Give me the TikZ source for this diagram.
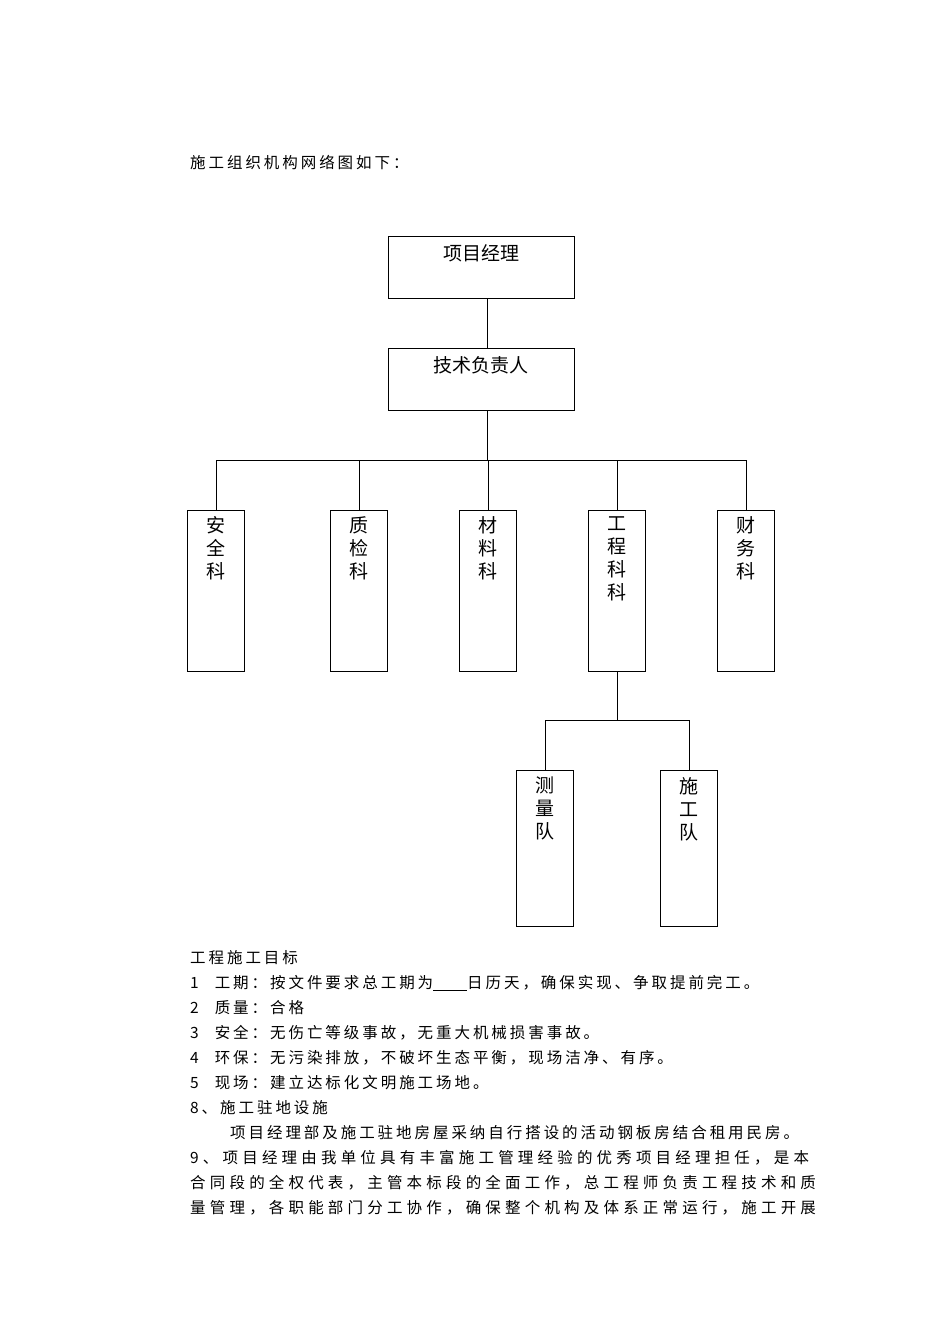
\documentclass[tikz,border=0pt]{standalone}
\usepackage{fontspec}
\newfontfamily\cjk{Noto Sans CJK SC}
\newfontfamily\cjkw[LetterSpace=19]{Noto Sans CJK SC}
\newfontfamily\cjkww[LetterSpace=27]{Noto Sans CJK SC}
\begin{document}
\begin{tikzpicture}[x=1pt,y=-1pt,
  box/.style={draw,line width=1pt,inner sep=0pt},
  vt/.style={font=\cjk\fontsize{19}{23}\selectfont,align=center,anchor=north,inner sep=0pt},
  tx/.style={font=\cjkw\fontsize{15.5}{16}\selectfont,anchor=west,inner sep=0pt},
  txw/.style={font=\cjkww\fontsize{15.5}{16}\selectfont,anchor=west,inner sep=0pt},
  ln/.style={line width=1pt}]
\useasboundingbox (0,0) rectangle (950,1344);
\node[tx] (t0) at (190,163) {施工组织机构网络图如下：};
% boxes
\node[box,minimum width=186pt,minimum height=62pt] (pm) at (481,267) {};
\node[vt] at (481,244) {项目经理};
\node[box,minimum width=186pt,minimum height=62pt] (tech) at (481,379) {};
\node[vt] at (481,356) {技术负责人};
\foreach \n/\x/\t in {a/216/安\\全\\科, b/359/质\\检\\科, c/488/材\\料\\科, d/617/工\\程\\科\\科, e/746/财\\务\\科}{
  \node[box,minimum width=57pt,minimum height=161pt] (\n) at (\x,590.5) {};
  \node[vt] at (\x,516) {\t};
}
\foreach \n/\x/\t in {f/545/测\\量\\队, g/689/施\\工\\队}{
  \node[box,minimum width=57pt,minimum height=156pt] (\n) at (\x,848) {};
  \node[vt] at (\x,777) {\t};
}
\draw[ln] (pm.south -| 487,0) -- (tech.north -| 487,0);
\coordinate (j1) at (487,460);
\draw[ln] (tech.south -| 487,0) -- (j1);
\draw[ln] (a.north) -- (a.north |- j1) -- (e.north |- j1) -- (e.north);
\foreach \n in {b,c,d}{\draw[ln] (\n.north) -- (\n.north |- j1);}
\coordinate (j2) at (617,720);
\draw[ln] (d.south) -- (j2);
\draw[ln] (f.north) -- (f.north |- j2) -- (g.north |- j2) -- (g.north);
% text
\node[tx] (l1) at (190,958) {工程施工目标};
\node[tx] (l2) at (190,983) {1\hspace{16pt}工期：按文件要求总工期为\underline{\hspace{34pt}}日历天，确保实现、争取提前完工。};
\node[tx] (l3) at (190,1008) {2\hspace{16pt}质量：合格};
\node[tx] (l4) at (190,1033) {3\hspace{16pt}安全：无伤亡等级事故，无重大机械损害事故。};
\node[tx] (l5) at (190,1058) {4\hspace{16pt}环保：无污染排放，不破坏生态平衡，现场洁净、有序。};
\node[tx] (l6) at (190,1083) {5\hspace{16pt}现场：建立达标化文明施工场地。};
\node[tx] (l7) at (190,1108) {8、施工驻地设施};
\node[tx] (l8) at (230,1133) {项目经理部及施工驻地房屋采纳自行搭设的活动钢板房结合租用民房。};
\node[txw] (l9) at (190,1158) {9、项目经理由我单位具有丰富施工管理经验的优秀项目经理担任，是本};
\node[txw] (l10) at (190,1183) {合同段的全权代表，主管本标段的全面工作，总工程师负责工程技术和质};
\node[txw] (l11) at (190,1208) {量管理，各职能部门分工协作，确保整个机构及体系正常运行，施工开展};
\end{tikzpicture}
\end{document}
